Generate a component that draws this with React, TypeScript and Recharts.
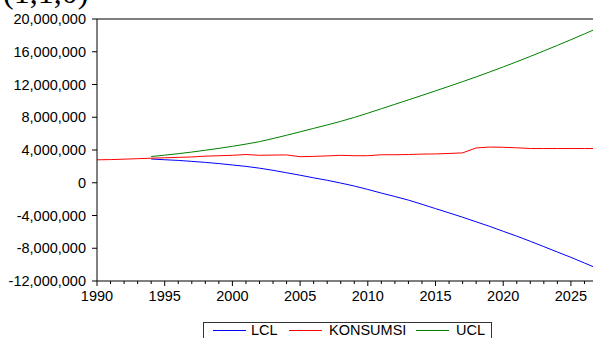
import React from "react";
import { Line, LineChart, ReferenceLine, XAxis, YAxis } from "recharts";

const years = [
  1990, 1991, 1992, 1993, 1994, 1995, 1996, 1997, 1998, 1999,
  2000, 2001, 2002, 2003, 2004, 2005, 2006, 2007, 2008, 2009,
  2010, 2011, 2012, 2013, 2014, 2015, 2016, 2017, 2018, 2019,
  2020, 2021, 2022, 2023, 2024, 2025, 2026, 2027,
];

const konsumsi = [
  2800000, 2830000, 2880000, 2940000, 3000000, 3050000, 3100000, 3150000, 3250000, 3300000,
  3350000, 3450000, 3350000, 3380000, 3400000, 3180000, 3220000, 3280000, 3350000, 3300000,
  3300000, 3420000, 3420000, 3450000, 3500000, 3520000, 3580000, 3650000, 4250000, 4360000,
  4330000, 4270000, 4180000, 4180000, 4180000, 4180000, 4180000, 4180000,
];

// bands start in 1994
const ucl = [
  null, null, null, null, 3200000, 3370000, 3550000, 3750000, 3970000, 4200000,
  4450000, 4720000, 5020000, 5400000, 5800000, 6220000, 6640000, 7060000, 7500000, 7980000,
  8500000, 9040000, 9580000, 10120000, 10670000, 11220000, 11780000, 12350000, 12930000, 13530000,
  14150000, 14780000, 15430000, 16100000, 16780000, 17470000, 18180000, 18900000,
];

const lcl = [
  null, null, null, null, 2900000, 2810000, 2730000, 2610000, 2490000, 2340000,
  2170000, 2000000, 1780000, 1520000, 1220000, 920000, 600000, 300000, -40000, -400000,
  -820000, -1260000, -1680000, -2120000, -2630000, -3160000, -3680000, -4210000, -4770000, -5330000,
  -5930000, -6520000, -7150000, -7800000, -8460000, -9110000, -9800000, -10500000,
];

const yTicks = [-12000000, -8000000, -4000000, 0, 4000000, 8000000, 12000000, 16000000, 20000000];

const data = years.map((year, i) => ({
  year,
  LCL: lcl[i],
  KONSUMSI: konsumsi[i],
  UCL: ucl[i],
}));

const font = "'Liberation Sans', Arial, sans-serif";

function YearTick(props: any) {
  const { x, y, payload } = props;
  const major = payload.value % 5 === 0;
  return (
    <g>
      <line x1={x} x2={x} y1={y} y2={y + (major ? 5 : 3)} stroke="#000" strokeWidth={1} />
      {major && (
        <text x={x} y={y + 20} textAnchor="middle" fill="#000" fontSize={14.5} fontFamily={font}>
          {payload.value}
        </text>
      )}
    </g>
  );
}

// legend swatch / label offsets inside the box
const legendItems = [
  { name: "LCL", color: "#0000ff", line: 9, text: 47 },
  { name: "KONSUMSI", color: "#ff0000", line: 85, text: 125 },
  { name: "UCL", color: "#008000", line: 212, text: 252 },
];

export default function App() {
  return (
    <div style={{ position: "absolute", left: 0, top: 0, width: 593, height: 338, overflow: "hidden", background: "#fff" }}>
      <div
        style={{
          position: "absolute",
          left: 3,
          top: -24,
          fontFamily: "'Liberation Serif', 'Times New Roman', serif",
          fontSize: 32,
          lineHeight: 1,
          color: "#000",
          whiteSpace: "nowrap",
        }}
      >
        (1,1,0)
      </div>
      <div style={{ position: "absolute", left: 0, top: 0 }}>
        <LineChart width={610} height={338} data={data} margin={{ top: 19, right: 12, bottom: 27, left: 0 }}>
          <XAxis
            dataKey="year"
            type="number"
            domain={[1990, 2027]}
            ticks={years}
            interval={0}
            tick={<YearTick />}
            tickSize={0}
            tickMargin={0}
            tickLine={false}
            axisLine={{ stroke: "#000" }}
            height={30}
          />
          <YAxis
            domain={[-12000000, 20000000]}
            ticks={yTicks}
            interval={0}
            width={97}
            tickSize={5}
            tickMargin={6}
            tickLine={{ stroke: "#000" }}
            axisLine={{ stroke: "#000" }}
            tick={{ fill: "#000", fontSize: 14.5, fontFamily: font }}
            tickFormatter={(v: number) => v.toLocaleString("en-US")}
          />
          <ReferenceLine y={20000000} stroke="#000" strokeWidth={1} />
          <Line type="linear" dataKey="LCL" stroke="#0000ff" strokeWidth={1} dot={false} isAnimationActive={false} />
          <Line type="linear" dataKey="KONSUMSI" stroke="#ff0000" strokeWidth={1} dot={false} isAnimationActive={false} />
          <Line type="linear" dataKey="UCL" stroke="#008000" strokeWidth={1} dot={false} isAnimationActive={false} />
        </LineChart>
      </div>
      <div
        style={{
          position: "absolute",
          left: 203,
          top: 322,
          width: 289,
          height: 30,
          border: "1px solid #333",
          background: "#fff",
          boxSizing: "border-box",
          fontFamily: font,
          fontSize: 14.5,
          color: "#000",
        }}
      >
        {legendItems.map((item) => (
          <React.Fragment key={item.name}>
            <span
              style={{ position: "absolute", left: item.line, top: 7, width: 33, height: 1, background: item.color }}
            />
            <span style={{ position: "absolute", left: item.text, top: -1, lineHeight: "17px", whiteSpace: "nowrap" }}>
              {item.name}
            </span>
          </React.Fragment>
        ))}
      </div>
    </div>
  );
}
